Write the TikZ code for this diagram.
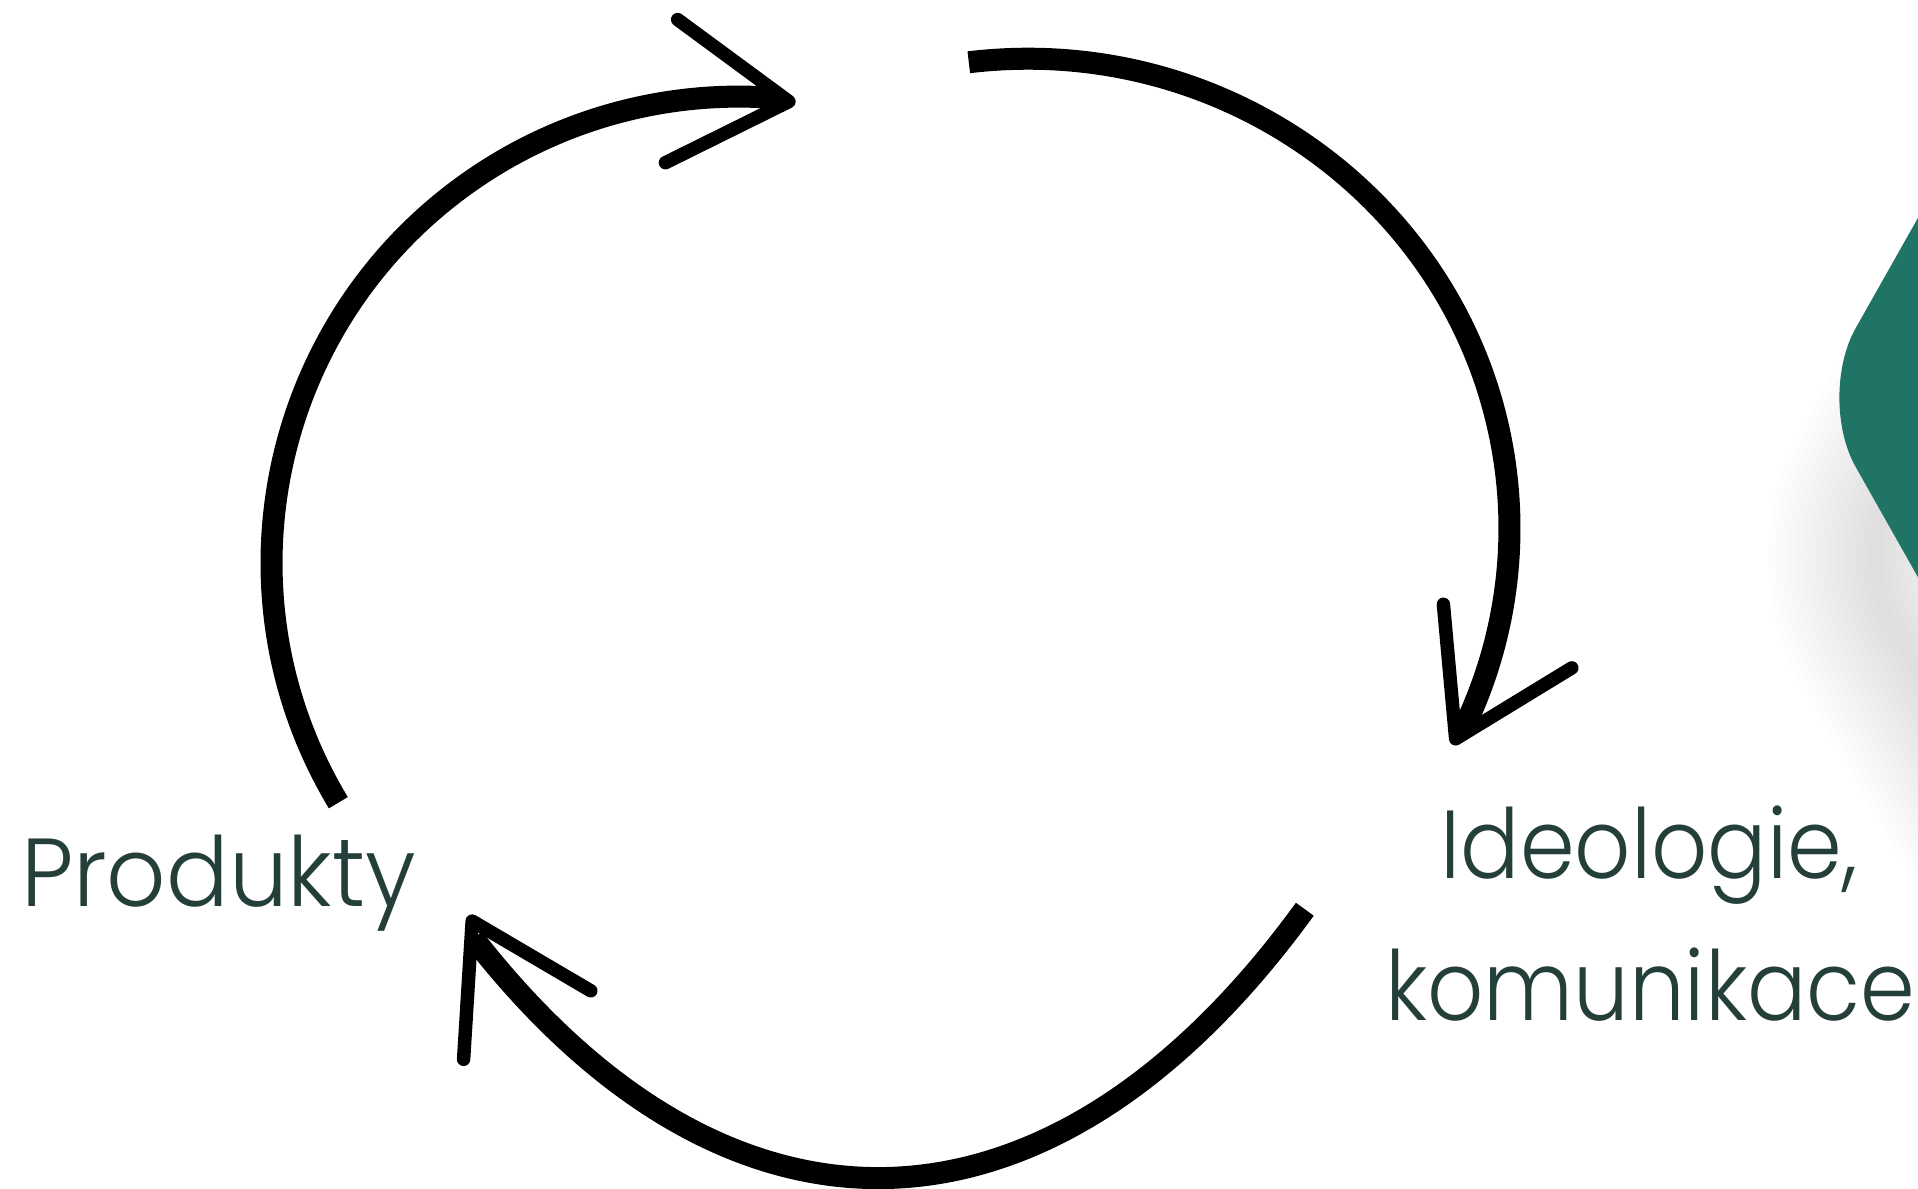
\documentclass[tikz,border=0pt]{standalone}
\usepackage{fontspec}
\setmainfont{Poppins Light}
\newfontfamily\prodfont{Poppins Light}[FakeStretch=0.96]
\newfontfamily\ideofont{Poppins Light}[FakeStretch=0.91]
\definecolor{labc}{RGB}{36,63,58}
\definecolor{hexg}{RGB}{31,116,101}
\begin{document}
\begin{tikzpicture}[x=1pt,y=-1pt,
  arcline/.style={line width=18pt,line cap=butt},
  headline/.style={line width=11pt,line cap=round,line join=round},
  lab/.style={inner sep=0pt,text=labc},
  hexshape/.style={rounded corners=65pt}]
\useasboundingbox (0,0) rectangle (1568,972);
\clip (0,0) rectangle (1568,972);
\fill[white] (0,0) rectangle (1568,972);
% soft shadow of green shape (cast downwards)
\foreach \i in {1,...,16}{
  \path[draw=black,opacity=0.009,line width=\i*11pt,line join=round,hexshape]
    (1650,216) -- (1515,455) -- (1650,694) -- (1830,694) -- (1830,216) -- cycle;
}
\fill[hexg,hexshape] (1620,86) -- (1485,325) -- (1620,564) -- (1800,564) -- (1800,86) -- cycle;
% named points
\coordinate (tA) at (645,83);
\coordinate (tB) at (1190,604);
\coordinate (tC) at (386,753);
\coordinate (sA) at (276.6,656.2);
\coordinate (sB) at (792.0,50.9);
\coordinate (sC) at (1066.7,743.3);
% arcs
\draw[arcline] (sA) arc[start angle=149, end angle=275, x radius=382, y radius=381];
\draw[arcline] (sB) arc[start angle=-97, end angle=25.5, x radius=394, y radius=384];
\draw[arcline] (sC) arc[start angle=57.55, end angle=120.6, x radius=650, y radius=1408];
% arrow heads
\coordinate (bA1) at (554,16);
\coordinate (bA2) at (544,133);
\coordinate (bB1) at (1180,494);
\coordinate (bB2) at (1285,546);
\coordinate (bC1) at (379,866);
\coordinate (bC2) at (483,810);
\draw[headline] (bA1) -- (tA) -- (bA2);
\draw[headline] (bB1) -- (tB) -- (bB2);
\draw[headline] (bC1) -- (tC) -- (bC2);
% labels
\node[lab,anchor=base west,font=\prodfont\fontsize{79}{95}\selectfont] (prod) at (17,741) {Produkty};
\node[lab,anchor=base,font=\ideofont\fontsize{79}{95}\selectfont] (ideo) at (1348,718) {Ideologie,};
\node[lab,anchor=base,font=\ideofont\fontsize{79}{95}\selectfont] (komu) at (1349,834) {komunikace};
\end{tikzpicture}
\end{document}
